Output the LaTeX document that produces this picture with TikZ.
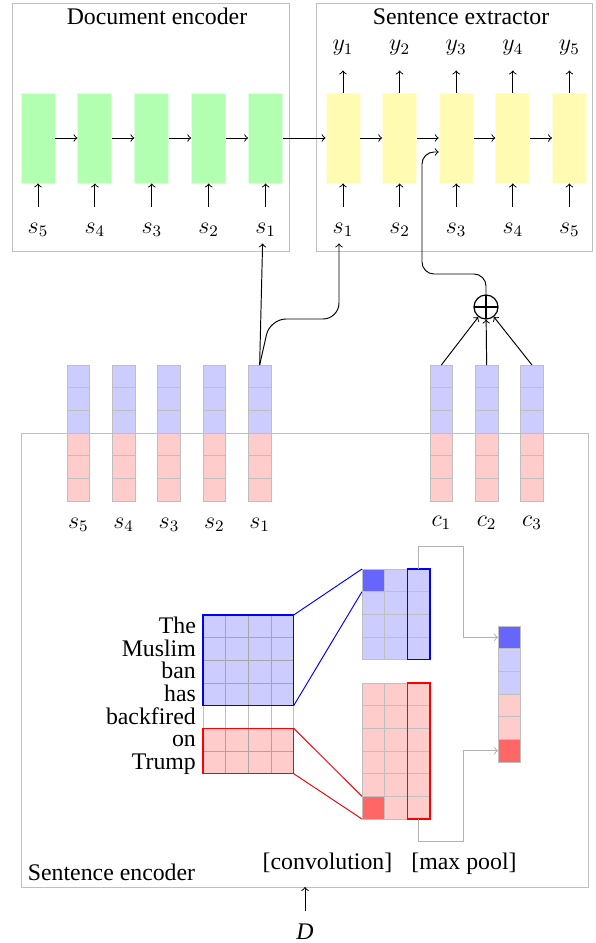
\documentclass[tikz,border=0pt]{standalone}
\usepackage{fontspec}
\setmainfont{Liberation Serif}
\begin{document}
\begin{tikzpicture}[x=0.5pt,y=-0.5pt,font=\fontsize{11.9}{14.3}\selectfont,line width=0.48pt,
  frame/.style={draw=black!25},
  gbox/.style={fill=green!30,draw=green!12,minimum width=17pt,minimum height=45pt,inner sep=0pt},
  ybox/.style={fill=yellow!30,draw=yellow!12,minimum width=17pt,minimum height=45pt,inner sep=0pt},
  lab/.style={minimum height=13pt,inner sep=1pt},
  cellb/.style={fill=blue!20,draw=black!25},
  cellr/.style={fill=red!20,draw=black!25},
  cellbb/.style={fill=blue!20,draw=black!35},
  cellrr/.style={fill=red!20,draw=black!35},
  cellw/.style={fill=white,draw=black!25},
  gconn/.style={draw=black!30,->},
  oplusnode/.style={draw,circle,minimum size=12pt,inner sep=0pt,line width=0.6pt,
    path picture={\draw[line width=0.6pt] (path picture bounding box.north) -- (path picture bounding box.south)
      (path picture bounding box.west) -- (path picture bounding box.east);}}
]
\useasboundingbox (0,0) rectangle (595,943);

% frames
\draw[frame] (12,3) rectangle (289,251);
\draw[frame] (316,3) rectangle (592,251);
\draw[frame] (21,433) rectangle (588,887);
\node[anchor=base] (tdoc) at (157,24) {Document encoder};
\node[anchor=base] (textr) at (461,24) {Sentence extractor};
\node[anchor=base] (tenc) at (111.5,880.5) {Sentence encoder};
\node[anchor=base] (tconv) at (327.5,869) {[convolution]};
\node[anchor=base] (tpool) at (464,869) {[max pool]};

% document encoder
\foreach \i/\k in {0/5,1/4,2/3,3/2,4/1} {
  \node[gbox] (d\k) at ({38+\i*56.9},138) {};
  \node[lab] (ds\k) at ({38+\i*56.9},230) {$s_{\k}$};
  \draw[->,shorten <=5pt] (ds\k.north) -- (d\k.south);
}
% sentence extractor
\foreach \i in {1,...,5} {
  \node[ybox] (e\i) at ({343+(\i-1)*56.6},138) {};
  \node[lab] (es\i) at ({343+(\i-1)*56.6},230) {$s_{\i}$};
  \node[lab] (y\i) at ({343+(\i-1)*56.6},48) {$y_{\i}$};
  \draw[->,shorten <=5pt] (es\i.north) -- (e\i.south);
  \draw[->,shorten >=4.5pt] (e\i.north) -- (y\i.south);
}
\foreach \a/\b in {d5/d4,d4/d3,d3/d2,d2/d1,d1/e1,e1/e2,e2/e3,e3/e4,e4/e5}
  \draw[->] (\a) -- (\b);

% sentence vectors
\foreach \i/\k in {0/5,1/4,2/3,3/2,4/1} {
  \pgfmathsetmacro\xx{67+\i*45.33}
  \foreach \r in {0,1,2} \draw[cellb] (\xx,{365+\r*22.67}) rectangle ++(22.67,22.67);
  \foreach \r in {3,4,5} \draw[cellr] (\xx,{365+\r*22.67}) rectangle ++(22.67,22.67);
  \coordinate (v\k) at ({\xx+11.33},365);
  \node[lab] (vs\k) at ({\xx+11.33},525) {$s_{\k}$};
}
% context vectors
\foreach \i/\k in {0/1,1/2,2/3} {
  \pgfmathsetmacro\xx{430+\i*45.33}
  \foreach \r in {0,1,2} \draw[cellb] (\xx,{365+\r*22.67}) rectangle ++(22.67,22.67);
  \foreach \r in {3,4,5} \draw[cellr] (\xx,{365+\r*22.67}) rectangle ++(22.67,22.67);
  \coordinate (c\k) at ({\xx+11.33},365);
  \node[lab] (cs\k) at ({\xx+11.33},523) {$c_{\k}$};
}

% oplus and connections
\node[oplusnode] (op) at (486,307) {};
\foreach \k in {1,2,3} \draw[->] (c\k) -- (op);
\draw[->,rounded corners=6pt] (op.north) |- (422,274) |- ([yshift=-7pt]e3.west);
\draw[->] (v1) -- ([xshift=-1.5pt]ds1.south);
\draw[->,rounded corners=8pt] (v1) -- (270,319) -| ([xshift=-2pt]es1.south);

% words
\foreach \w [count=\r from 0] in {The,Muslim,ban,has,backfired,on,Trump}
  \node[anchor=base east] (w\r) at (203,{615+\r*22.67+18.5}) {\w};

% input matrix
\foreach \c in {0,...,3} {
  \foreach \r in {0,...,3} \draw[cellbb] ({203+\c*22.67},{615+\r*22.67}) rectangle ++(22.67,22.67);
  \draw[cellw] ({203+\c*22.67},{615+4*22.67}) rectangle ++(22.67,22.67);
  \foreach \r in {5,6} \draw[cellrr] ({203+\c*22.67},{615+\r*22.67}) rectangle ++(22.67,22.67);
}
\draw[blue,line width=0.6pt] (203,615) rectangle (293.67,705.67);
\draw[red,line width=0.6pt] (203,728.33) rectangle (293.67,773.67);
\coordinate (ibtr) at (293.67,615);
\coordinate (ibbr) at (293.67,705.67);
\coordinate (irtr) at (293.67,728.33);
\coordinate (irbr) at (293.67,773.67);

% convolution maps
\foreach \c in {0,1,2} {
  \foreach \r in {0,...,3} \draw[cellb] ({362+\c*22.67},{569+\r*22.67}) rectangle ++(22.67,22.67);
  \foreach \r in {0,...,5} \draw[cellr] ({362+\c*22.67},{683+\r*22.67}) rectangle ++(22.67,22.67);
}
\draw[fill=blue!60,draw=black!25] (362,569) rectangle ++(22.67,22.67);
\draw[fill=red!60,draw=black!25] (362,796.33) rectangle ++(22.67,22.67);
\draw[blue,line width=0.6pt] (407.33,569) rectangle (430,659.67);
\draw[red,line width=0.6pt] (407.33,683) rectangle (430,819);
\coordinate (cbtl) at (362,569);
\coordinate (cbbl) at (362,591.67);
\coordinate (crtl) at (362,796.33);
\coordinate (crbl) at (362,819);
\draw[blue] (ibtr) -- (cbtl) (ibbr) -- (cbbl);
\draw[red] (irtr) -- (crtl) (irbr) -- (crbl);

% pooled vector
\foreach \r/\f in {0/blue!60,1/blue!20,2/blue!20,3/red!20,4/red!20,5/red!60}
  \draw[fill=\f,draw=black!25] (498,{626+\r*22.67}) rectangle ++(22.67,22.67);
\coordinate (p1) at (498,637.33);
\coordinate (p6) at (498,750.67);
\coordinate (cbtop) at (418.67,569);
\coordinate (crbot) at (418.67,819);
\draw[gconn] (cbtop) |- (463,546) |- (p1);
\draw[gconn] (crbot) |- (463,841) |- (p6);

% document input
\coordinate (encb) at (305,887);
\node (D) at (305,932) {\textit{D}};
\draw[->,shorten <=3pt] (D.north) -- (encb);
\end{tikzpicture}
\end{document}
